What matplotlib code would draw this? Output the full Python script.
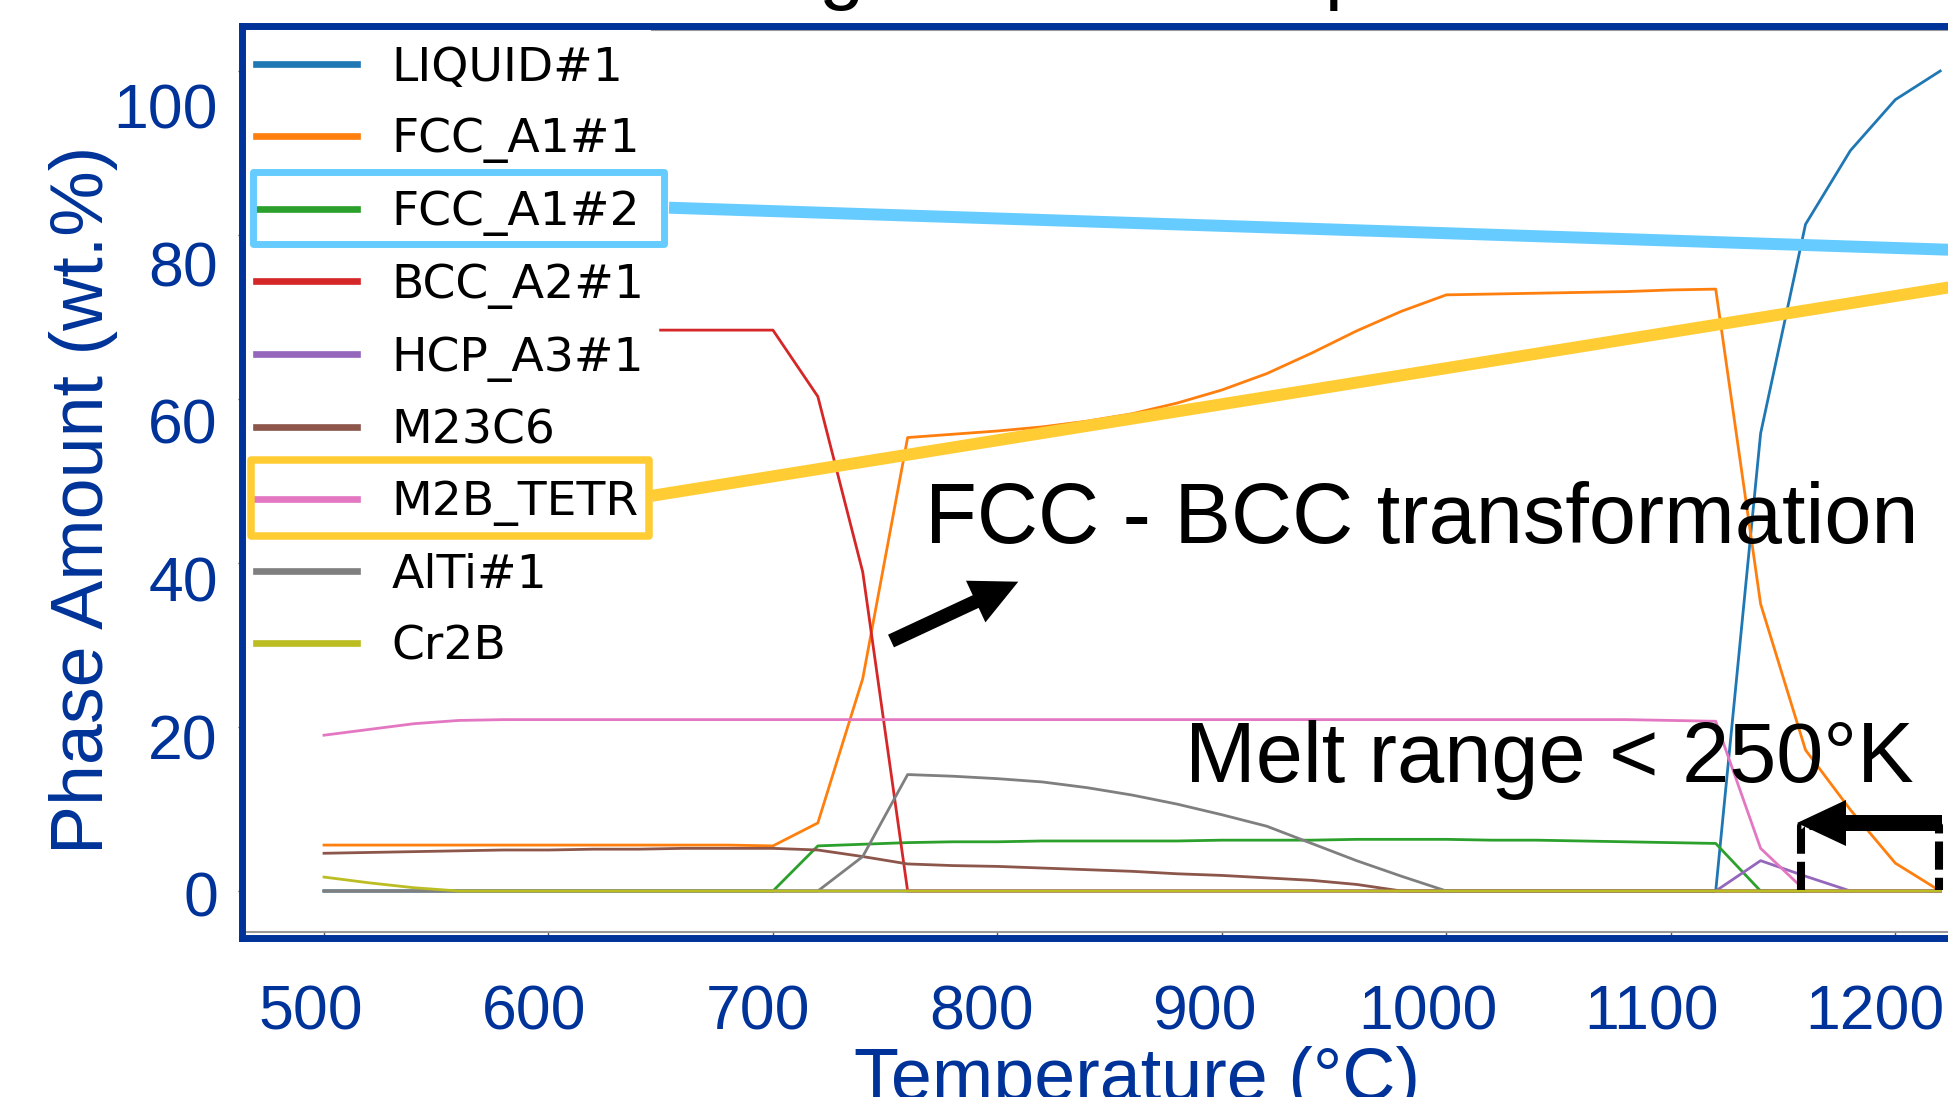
import matplotlib.pyplot as plt
from matplotlib.patches import FancyArrow, Rectangle
from matplotlib.lines import Line2D

# equilibrium step data, 20 C steps
temperature = [500, 520, 540, 560, 580, 600, 620, 640, 660, 680, 700, 720, 740,
               760, 780, 800, 820, 840, 860, 880, 900, 920, 940, 960, 980, 1000,
               1020, 1040, 1060, 1080, 1100, 1120, 1140, 1160, 1180, 1200, 1220]

liquid = [0, 0, 0, 0, 0, 0, 0, 0, 0, 0, 0, 0, 0,
          0, 0, 0, 0, 0, 0, 0, 0, 0, 0, 0, 0, 0,
          0, 0, 0, 0, 0, 0, 55.8, 81.3, 90.3, 96.5, 100.0]
fcc1 = [5.6, 5.6, 5.6, 5.6, 5.6, 5.6, 5.6, 5.6, 5.6, 5.6, 5.5, 8.3, 25.9,
        55.3, 55.7, 56.1, 56.6, 57.3, 58.2, 59.5, 61.1, 63.1, 65.6, 68.3, 70.7, 72.7,
        72.8, 72.9, 73.0, 73.1, 73.3, 73.4, 35.0, 17.2, 9.9, 3.4, 0.0]
fcc2 = [0, 0, 0, 0, 0, 0, 0, 0, 0, 0, 0, 5.5, 5.7,
        5.9, 6.0, 6.0, 6.1, 6.1, 6.1, 6.1, 6.2, 6.2, 6.2, 6.3, 6.3, 6.3,
        6.2, 6.2, 6.1, 6.0, 5.9, 5.8, 0, 0, 0, 0, 0]
bcc = [69.0, 68.8, 68.6, 68.4, 68.4, 68.4, 68.4, 68.4, 68.4, 68.4, 68.4, 60.3, 38.9,
       0, 0, 0, 0, 0, 0, 0, 0, 0, 0, 0, 0, 0,
       0, 0, 0, 0, 0, 0, 0, 0, 0, 0, 0]
hcp = [0, 0, 0, 0, 0, 0, 0, 0, 0, 0, 0, 0, 0,
       0, 0, 0, 0, 0, 0, 0, 0, 0, 0, 0, 0, 0,
       0, 0, 0, 0, 0, 0, 3.7, 1.8, 0, 0, 0]
m23c6 = [4.6, 4.7, 4.8, 4.9, 5.0, 5.0, 5.1, 5.1, 5.2, 5.2, 5.2, 5.0, 4.2,
         3.3, 3.1, 3.0, 2.8, 2.6, 2.4, 2.1, 1.9, 1.6, 1.3, 0.8, 0, 0,
         0, 0, 0, 0, 0, 0, 0, 0, 0, 0, 0]
m2b = [19.0, 19.7, 20.4, 20.8, 20.9, 20.9, 20.9, 20.9, 20.9, 20.9, 20.9, 20.9, 20.9,
       20.9, 20.9, 20.9, 20.9, 20.9, 20.9, 20.9, 20.9, 20.9, 20.9, 20.9, 20.9, 20.9,
       20.9, 20.9, 20.9, 20.9, 20.8, 20.7, 5.2, 0, 0, 0, 0]
alti = [0, 0, 0, 0, 0, 0, 0, 0, 0, 0, 0, 0, 4.2,
        14.2, 14.0, 13.7, 13.3, 12.6, 11.7, 10.6, 9.3, 7.9, 5.8, 3.7, 1.8, 0,
        0, 0, 0, 0, 0, 0, 0, 0, 0, 0, 0]
cr2b = [1.7, 1.0, 0.4, 0, 0, 0, 0, 0, 0, 0, 0, 0, 0,
        0, 0, 0, 0, 0, 0, 0, 0, 0, 0, 0, 0, 0,
        0, 0, 0, 0, 0, 0, 0, 0, 0, 0, 0]

phase_names = ["LIQUID#1", "FCC_A1#1", "FCC_A1#2", "BCC_A2#1", "HCP_A3#1",
               "M23C6", "M2B_TETR", "AlTi#1", "Cr2B"]
phase_values = [liquid, fcc1, fcc2, bcc, hcp, m23c6, m2b, alti, cr2b]

x_ticks = [500, 600, 700, 800, 900, 1000, 1100, 1200]
y_ticks = [0, 20, 40, 60, 80, 100]

title = "Phase diagram and temperature"
note_fcc = "FCC - BCC transformation"
note_melt = "Melt range < 250°K"

BLUE = "#003399"
SLIDE_FONT = "Liberation Sans"
W, H = 1948, 1097


def px_box(left, top, right, bottom):
    # pixel box measured from the top-left corner -> figure fraction rect
    return [left / W, 1 - bottom / H, (right - left) / W, (bottom - top) / H]


fig = plt.figure(figsize=(W / 100, H / 100), dpi=100)

# the pasted matplotlib chart
ax = fig.add_axes(px_box(243.2, 30, 2021, 932))
ax.set_zorder(1)
for name, vals in zip(phase_names, phase_values):
    ax.plot(temperature, vals, lw=2.0, label=name)
ax.set_xlim(464, 1256)
ax.set_ylim(-5, 105)
ax.set_xticks(x_ticks)
ax.set_yticks(y_ticks)
ax.tick_params(length=3.5, width=1, color="#555555", labelbottom=False, labelleft=False)
for sp in ax.spines.values():
    sp.set_color("#999999")
    sp.set_linewidth(1.5)
# the slide hides the top edge behind the legend
ax.spines["top"].set_bounds(646, 1256)
leg = ax.legend(loc="upper left", bbox_to_anchor=(0, 0.9972), borderaxespad=0,
                fontsize=34, handlelength=2.14, handletextpad=0.72, labelspacing=0.566,
                borderpad=0.28, facecolor="white", edgecolor="white", framealpha=1,
                fancybox=False)
for line in leg.get_lines():
    line.set_linewidth(4.8)

# slide frame with its own axis text
frame = fig.add_axes(px_box(241.5, 25.5, 2030, 937.5))
frame.set_zorder(3)
frame.patch.set_visible(False)
frame.set_xlim(468.9, 1269.5)
frame.set_ylim(-5.54, 110.15)
frame.set_xticks(x_ticks)
frame.set_yticks(y_ticks)
frame.set_xticklabels([str(t) for t in x_ticks], fontsize=45, color=BLUE, family=SLIDE_FONT)
frame.set_yticklabels([str(t) for t in y_ticks], fontsize=45, color=BLUE, family=SLIDE_FONT)
frame.tick_params(axis="x", length=0, pad=32.8)
frame.tick_params(axis="y", length=0, pad=17)
for sp in frame.spines.values():
    sp.set_color(BLUE)
    sp.set_linewidth(5)
frame.set_xlabel("Temperature (°C)", fontsize=53, color=BLUE, family=SLIDE_FONT)
frame.xaxis.set_label_coords(0.5007, -0.178)
frame.xaxis.label.set_va("baseline")
frame.set_ylabel("Phase Amount (wt.%)", fontsize=53, color=BLUE, family=SLIDE_FONT)
frame.yaxis.set_label_coords(-0.0774, 0.4797)
frame.yaxis.label.set_va("baseline")
frame.yaxis.label.set_rotation_mode("anchor")

# slide overlay in pixel units
ov = fig.add_axes([0, 0, 1, 1])
ov.set_zorder(5)
ov.patch.set_visible(False)
ov.set_xlim(0, W)
ov.set_ylim(H, 0)
ov.axis("off")

ov.text(454.5, -6, title, fontsize=59, family=SLIDE_FONT, va="baseline", ha="left")

# highlight boxes and their connectors
ov.add_patch(Rectangle((253, 171.5), 411, 72, fill=False, ec="#66CCFF", lw=5, joinstyle="round"))
ov.add_line(Line2D([669, 1960], [207.7, 250.1], color="#66CCFF", lw=8.6, solid_capstyle="butt"))
ov.add_patch(Rectangle((251.2, 460.3), 397.6, 75.2, fill=False, ec="#FFCC33", lw=5.4, joinstyle="round"))
ov.add_line(Line2D([652, 1960], [495.8, 285.6], color="#FFCC33", lw=8.6, solid_capstyle="butt"))

ov.text(925, 543.3, note_fcc, fontsize=61, family=SLIDE_FONT, va="baseline", ha="left")
ov.add_patch(FancyArrow(891, 641, 127.3, -59.3, width=14, head_width=46, head_length=47,
                        length_includes_head=True, color="black", lw=0))

ov.text(1185, 781.7, note_melt, fontsize=61, family=SLIDE_FONT, va="baseline", ha="left")
ov.add_line(Line2D([1801, 1801, 1939, 1939], [890, 826, 826, 890], color="black", lw=5.8,
                   ls=(0, (3.5, 1.0))))
ov.add_patch(FancyArrow(1942, 823, -145, 0, width=16, head_width=46, head_length=49,
                        length_includes_head=True, color="black", lw=0))

fig.savefig("out.png", dpi=100)
plt.close(fig)
